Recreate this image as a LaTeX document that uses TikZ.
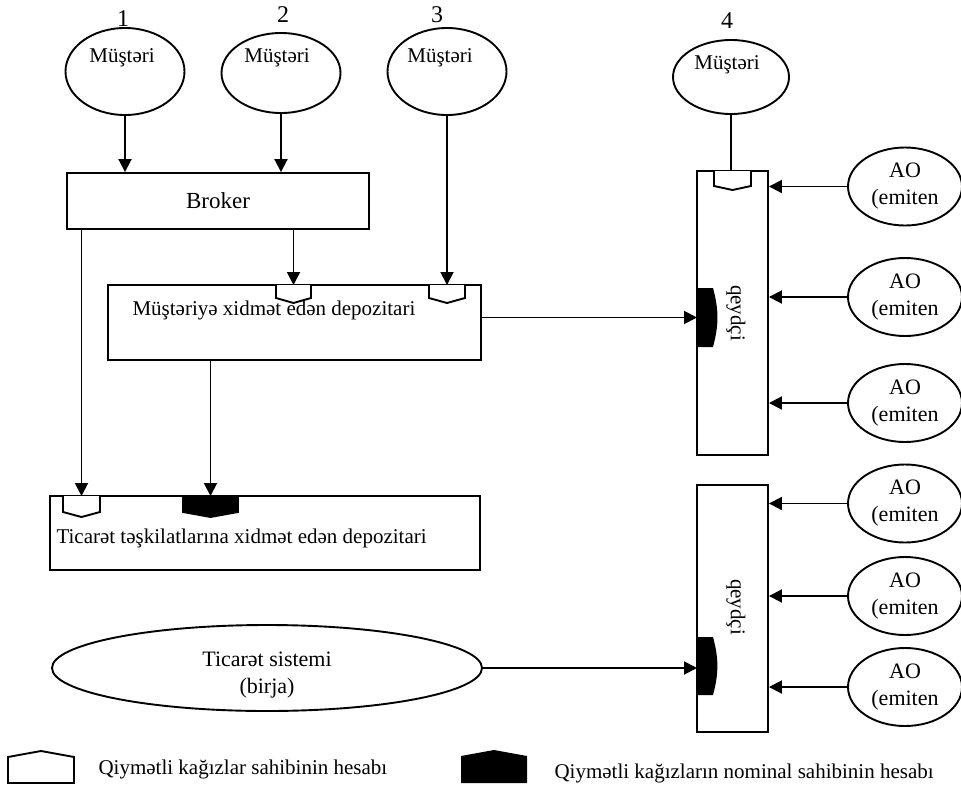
\documentclass[tikz,border=0pt]{standalone}
\usepackage{fontspec}
\setmainfont{Liberation Serif}
\usetikzlibrary{shapes.geometric,arrows.meta,positioning}

\tikzset{
    every node/.style={font=\fontsize{21}{25}\selectfont},
    box/.style={draw, rectangle, line width=1.9pt, inner sep=0pt},
    client/.style={draw, ellipse, line width=1.9pt, inner sep=0pt, minimum width=119pt},
    issuer/.style={draw, ellipse, line width=1.9pt, inner sep=0pt, minimum width=114pt,
        minimum height=78pt, align=center, font=\fontsize{22}{27}\selectfont},
    flow/.style={line width=1.9pt, -{Triangle[length=13pt,width=13pt]}},
    link/.style={line width=1.9pt},
    owner/.style={draw, line width=1.9pt, fill=white},
    nominee/.style={draw, line width=1.9pt, fill=black},
    num/.style={font=\fontsize{24}{28}\selectfont},
}

\begin{document}
\begin{tikzpicture}[x=1pt, y=-1pt]
    \useasboundingbox (0,0) rectangle (961,790);
    % clients
    \node[client, minimum height=87pt] (m1) at (125,71.5) {};
    \node[client, minimum height=80pt] (m2) at (281,73) {};
    \node[client, minimum height=87pt] (m3) at (447,71.5) {};
    \node[client, minimum width=116pt, minimum height=74pt] (m4) at (731,77) {};
    \node (t1) at (122,58) {Müştəri};
    \node (t2) at (277,58) {Müştəri};
    \node (t3) at (440,58) {Müştəri};
    \node (t4) at (727,65) {Müştəri};
    \node[num] (n1) at (123,19) {1};
    \node[num] (n2) at (283,15) {2};
    \node[num] (n3) at (437,15) {3};
    \node[num] (n4) at (727,21) {4};
    % boxes
    \node[box, minimum width=302pt, minimum height=56pt] (broker) at (218,201)
        {\fontsize{23}{27}\selectfont Broker};
    \node[box, minimum width=373pt, minimum height=75pt] (depo) at (294.5,322.5) {};
    \node[anchor=west] (depotxt) at (129,310) {Müştəriyə xidmət edən depozitari};
    \node[box, minimum width=430pt, minimum height=74pt] (trade) at (265,533) {};
    \node[anchor=west] (tradetxt) at (53,538) {Ticarət təşkilatlarına xidmət edən depozitari};
    \node[box, minimum width=71pt, minimum height=284pt] (reg1) at (732.5,313) {};
    \node[box, minimum width=71pt, minimum height=247pt] (reg2) at (732.5,608.5) {};
    \node[rotate=-90] (reg1txt) at (736,313) {qeydçi};
    \node[rotate=-90] (reg2txt) at (736,607) {qeydçi};
    \node[draw, ellipse, line width=1.9pt, minimum width=430pt, minimum height=86pt] (bx) at (267,668) {};
    \node[align=center, font=\fontsize{22}{27}\selectfont] (bxtxt) at (267,675) {Ticarət sistemi\\(birja)};
    % issuers
    \node[issuer] (ao1) at (905,186.5) {AO\\(emiten};
    \node[issuer] (ao2) at (905,297) {AO\\(emiten};
    \node[issuer] (ao3) at (905,403) {AO\\(emiten};
    \node[issuer] (ao4) at (905,503.5) {AO\\(emiten};
    \node[issuer] (ao5) at (905,596) {AO\\(emiten};
    \node[issuer] (ao6) at (905,687) {AO\\(emiten};
    % accounts
    \coordinate (acc1) at (293.5,285);
    \coordinate (acc2) at (447,285);
    \coordinate (acc3) at (732.5,171);
    \coordinate (acc4) at (81.5,496);
    \coordinate (acc5) at (210.5,496);
    \coordinate (acc6) at (697,317.5);
    \coordinate (acc7) at (697,666);
    \draw[owner] (acc1) ++(-17.5,0) -- ++(0,13) -- ++(17.5,5) -- ++(17.5,-5) -- ++(0,-13);
    \draw[owner] (acc2) ++(-18,0) -- ++(0,13) -- ++(18,5) -- ++(18,-5) -- ++(0,-13);
    \draw[owner] (acc3) ++(-18.5,0) -- ++(0,15) -- ++(18.5,4) -- ++(18.5,-4) -- ++(0,-15);
    \draw[owner] (acc4) ++(-18.5,0) -- ++(0,16) -- ++(18.5,5) -- ++(18.5,-5) -- ++(0,-16);
    \draw[nominee] (acc5) ++(-27.5,0) -- ++(0,16) -- ++(27.5,5) -- ++(27.5,-5) -- ++(0,-16) -- cycle;
    \fill (acc6) ++(0,-29.5) -- ++(16,0) to[bend left=15] ++(0,59) -- ++(-16,0) -- cycle;
    \fill (acc7) ++(0,-29) -- ++(16,0) to[bend left=15] ++(0,58) -- ++(-16,0) -- cycle;
    % connectors
    \draw[flow] (m1.south) -- (m1.south |- broker.north);
    \draw[flow] (m2.south) -- (m2.south |- broker.north);
    \draw[flow] (broker.south -| acc1) -- (acc1);
    \draw[flow] (m3.south) -- (acc2);
    \draw[link] (m4.south) -- (m4.south |- reg1.north);
    \draw[flow] (broker.south -| acc4) -- (acc4);
    \draw[flow] (depo.south -| acc5) -- (acc5);
    \draw[flow] (depo.east |- acc6) -- (acc6);
    \draw[flow] (bx.east) -- (bx.east -| acc7);
    \foreach \i in {1,2,3} {
        \draw[flow] (ao\i.west) -- (ao\i.west -| reg1.east);
    }
    \foreach \i in {4,5,6} {
        \draw[flow] (ao\i.west) -- (ao\i.west -| reg2.east);
    }
    % legend
    \draw[owner] (8,783) -- (8,757) -- (41,751) -- (74,757) -- (74,783) -- cycle;
    \fill (461,783) -- (461,756) -- (494,750) -- (527,756) -- (527,783) -- cycle;
    \node[anchor=west] (leg1) at (95,769) {Qiymətli kağızlar sahibinin hesabı};
    \node[anchor=west] (leg2) at (551,773) {Qiymətli kağızların nominal sahibinin hesabı};
\end{tikzpicture}
\end{document}
